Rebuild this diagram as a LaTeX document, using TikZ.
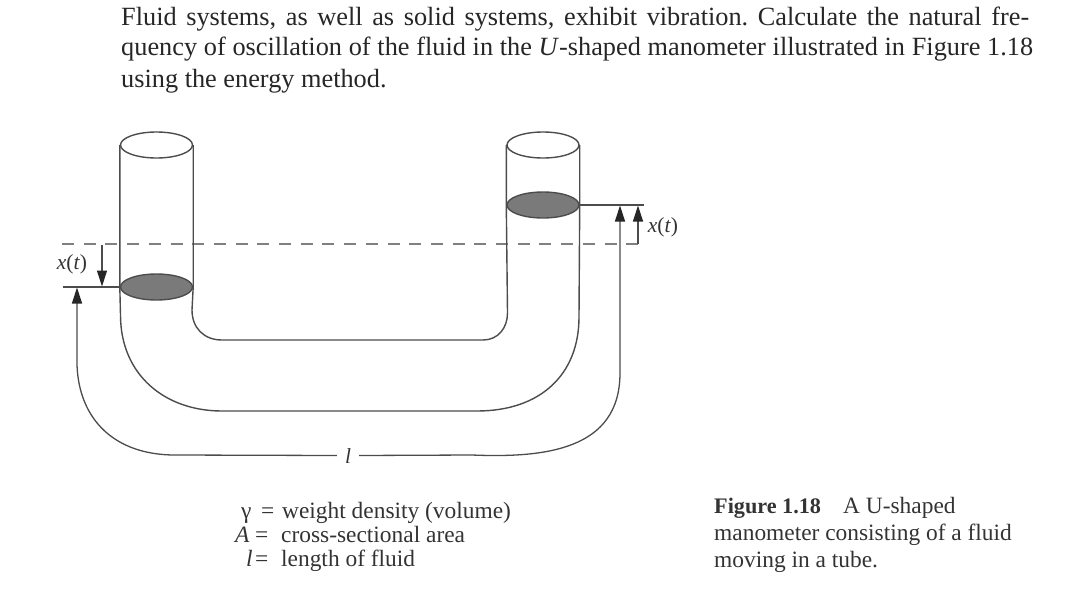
\documentclass[tikz,border=0pt]{standalone}
\usepackage{fontspec}
\setmainfont{Liberation Serif}
\usetikzlibrary{arrows.meta,shapes.geometric}
\definecolor{ink}{gray}{0.3}
\definecolor{fluid}{gray}{0.48}
\frenchspacing
\tikzset{
  tube/.style={line width=1.4pt,draw=ink},
  opening/.style={ellipse,draw=ink,line width=1.4pt,fill=white,minimum width=72pt,minimum height=26pt,inner sep=0pt},
  level/.style={opening,fill=fluid},
  dim/.style={line width=1.3pt,draw=ink},
  tip/.style={-{Triangle[length=16pt,width=10pt,color=black!85]}},
  datum/.style={line width=1.3pt,draw=black!50,dash pattern=on 12pt off 9.7pt},
  para/.style={anchor=base west,inner sep=0pt,text=black!85,font=\fontsize{26.3}{30}\selectfont},
  small/.style={anchor=base west,inner sep=0pt,text=black!80,font=\fontsize{23.4}{26}\selectfont},
  math/.style={inner sep=0pt,text=black!80,font=\fontsize{21.5}{24}\selectfont}
}
\begin{document}
\begin{tikzpicture}[x=1pt,y=-1pt]
\useasboundingbox (0,0) rectangle (1080,611);
% text
\node[para] (p1) at (121,25) {\hbox to 908pt{Fluid systems, as well as solid systems, exhibit vibration. Calculate the natural fre-}};
\node[para] (p2) at (121,55) {\hbox to 912pt{quency of oscillation of the fluid in the \textit{U}-shaped manometer illustrated in Figure 1.18}};
\node[para] (p3) at (121,87) {using the energy method.};
% tube openings and fluid levels
\coordinate (datumL) at (62,244);
\coordinate (datumR) at (638,244);
\draw[datum] (datumL) -- (datumR);
\node[opening] (topL) at (156.5,145) {};
\node[opening] (topR) at (543,145) {};
\node[level] (lvlL) at (156.5,287) {};
\node[level] (lvlR) at (543,205) {};
% tube walls
\coordinate (iLa) at (192,310); \coordinate (iLb) at (222,340);
\coordinate (iRb) at (483,340); \coordinate (iRa) at (507.5,313);
\coordinate (oLa) at (120.5,315); \coordinate (oLb) at (222,411);
\coordinate (oRb) at (477,411); \coordinate (oRa) at (579,317);
\draw[tube] (topL.west) -- (lvlL.west) -- (oLa) .. controls (120.5,375) and (165,411) .. (oLb) -- (oRb)
  .. controls (540,411) and (579,375) .. (oRa) -- (lvlR.east) -- (topR.east);
\draw[tube] (topL.east) -- (lvlL.east) -- (iLa) .. controls (192,328) and (204,340) .. (iLb) -- (iRb)
  .. controls (498,340) and (507.5,328) .. (iRa) -- (lvlR.west) -- (topR.west);
% dimension lines
\coordinate (extL) at (63,287);
\coordinate (extR) at (644,205);
\draw[dim] (extL) -- (lvlL.west);
\draw[dim] (lvlR.east) -- (extR);
\coordinate (xLa) at (102,245); \coordinate (xLb) at (102,286.5);
\draw[dim,tip] (xLa) -- (xLb);
\coordinate (xRb) at (638,205.5);
\draw[dim,tip] (datumR) -- (xRb);
\node[math] (xL) at (72,264) {\textit{x}(\textit{t})};
\node[math] (xR) at (663,227) {\textit{x}(\textit{t})};
\node[math] (len) at (348,456) {\textit{l}};
\coordinate (lLt) at (77,287.5); \coordinate (lLa) at (77,365); \coordinate (lLb) at (175,455);
\coordinate (lRt) at (620,205.5); \coordinate (lRa) at (620,373); \coordinate (lRb) at (472,455);
\draw[dim,tip] (len.west) ++(-8,-0.5) -- (lLb) .. controls (115,455) and (79,420) .. (lLa) -- (lLt);
\draw[dim,tip] (len.east) ++(8,-0.5) -- (lRb) .. controls (545,458) and (620,450) .. (lRa) -- (lRt);
% legend
\node[small] (g1) at (241,518) {γ};
\node[small] (g2) at (261,518) {=};
\node[small] (g3) at (282,518) {weight density (volume)};
\node[small] (a1) at (235,542) {\textit{A}};
\node[small] (a2) at (255,542) {=};
\node[small] (a3) at (281,542) {cross-sectional area};
\node[small] (l1) at (246,566) {\textit{l}};
\node[small] (l2) at (255,566) {=};
\node[small] (l3) at (281,566) {length of fluid};
% caption
\node[small,font=\fontsize{22.2}{26}\selectfont\bfseries] (c0) at (714,513) {Figure 1.18};
\node[small] (c1) at (843,513) {A U-shaped};
\node[small] (c2) at (714,540) {manometer consisting of a fluid};
\node[small] (c3) at (714,567) {moving in a tube.};
\end{tikzpicture}
\end{document}
